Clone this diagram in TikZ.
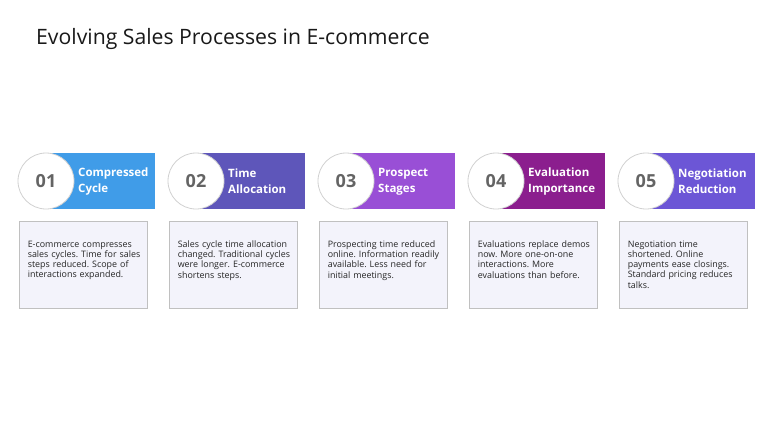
\documentclass[tikz,border=0pt]{standalone}
\usepackage{fontspec}
\setmainfont{Open Sans}
\usetikzlibrary{calc}
\definecolor{cA}{RGB}{64,156,232}
\definecolor{cB}{RGB}{94,86,186}
\definecolor{cC}{RGB}{153,79,214}
\definecolor{cD}{RGB}{139,30,142}
\definecolor{cE}{RGB}{108,86,214}
\definecolor{boxfill}{RGB}{243,243,251}
\definecolor{boxline}{RGB}{192,192,192}
\definecolor{numgray}{RGB}{100,100,100}
\begin{document}
\frenchspacing
\begin{tikzpicture}[x=1pt,y=-1pt,
  band/.style={rectangle, fill=#1, draw=none, minimum width=105pt, minimum height=56pt, inner sep=0pt},
  numcirc/.style={circle, fill=white, draw=black!18, line width=0.8pt, minimum size=56pt, inner sep=0pt,
    font=\bfseries\fontsize{18}{18}\selectfont, text=numgray},
  head/.style={anchor=west, align=left, text=white, inner sep=0pt, font=\bfseries\fontsize{11.5}{16}\selectfont},
  descbox/.style={rectangle, draw=boxline, fill=boxfill, line width=0.8pt, minimum width=128pt, minimum height=87pt, inner sep=0pt},
  desc/.style={anchor=north west, align=left, inner sep=0pt, text width=122pt, text=black!85, font=\fontsize{8.9}{10.2}\selectfont},
  title/.style={anchor=base west, inner sep=0pt, font=\fontsize{21.2}{24}\selectfont, text=black!90}]
\useasboundingbox (0,0) rectangle (768,432);
\fill[white] (0,0) rectangle (768,432);
\node[title] (ttl) at (36,44) {Evolving Sales Processes in E-commerce};
\foreach \i/\col/\hd/\tx in {
  1/cA/{Compressed\\Cycle}/{E-commerce compresses\\sales cycles. Time for sales\\steps reduced. Scope of\\interactions expanded.},
  2/cB/{Time\\Allocation}/{Sales cycle time allocation\\changed. Traditional cycles\\were longer. E-commerce\\shortens steps.},
  3/cC/{Prospect\\Stages}/{Prospecting time reduced\\online. Information readily\\available. Less need for\\initial meetings.},
  4/cD/{Evaluation\\Importance}/{Evaluations replace demos\\now. More one-on-one\\interactions. More\\evaluations than before.},
  5/cE/{Negotiation\\Reduction}/{Negotiation time\\shortened. Online\\payments ease closings.\\Standard pricing reduces\\talks.}}
{
  \pgfmathsetmacro{\xo}{150*(\i-1)}
  \node[band=\col] (band\i) at (102.5+\xo,181) {};
  \node[numcirc] (num\i) at (46+\xo,181) {0\i};
  \node[head] (head\i) at (78+\xo,181.5) {\hd};
  \node[descbox] (box\i) at (83+\xo,264.5) {};
  \node[desc] (txt\i) at ($(box\i.north west)+(9,20)$) {\tx};
}
\end{tikzpicture}
\end{document}
